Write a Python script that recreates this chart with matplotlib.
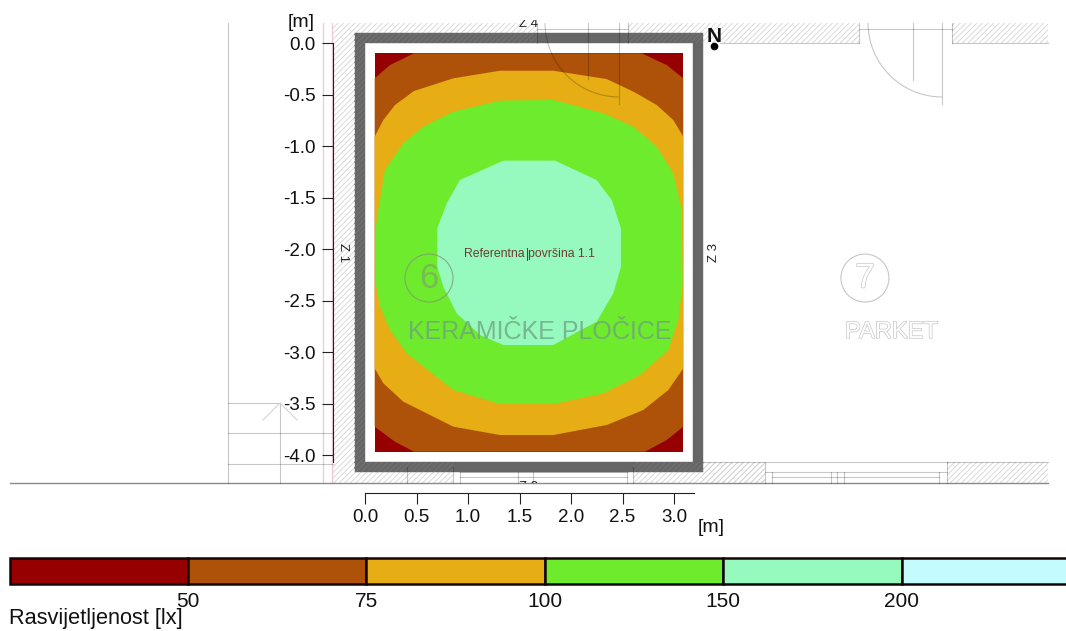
import matplotlib
matplotlib.use("Agg")
import matplotlib.pyplot as plt
import matplotlib.patheffects as pe
from matplotlib.patches import Rectangle, Circle, Arc
from matplotlib.ticker import FormatStrFormatter

plt.rcParams['font.family'] = ['Liberation Sans', 'DejaVu Sans']
plt.rcParams['axes.unicode_minus'] = False
plt.rcParams['hatch.linewidth'] = 0.6

# legend
band_colors = ['#960000', '#AF5209', '#E6AE14', '#6EEB2C', '#96F9BE', '#C3FBFF']
band_labels = ['50', '75', '100', '150', '200']
band_ticks = [1, 2, 3, 4, 5]

# isolines, metres
area_x = [0.094, 3.090, 3.090, 0.094]
area_y = [-0.100, -0.100, -3.968, -3.968]

lvl50_x = [0.094, 0.243, 0.476, 2.686, 2.929, 3.090, 3.090, 2.929, 2.718, 0.476, 0.291, 0.094]
lvl50_y = [-0.343, -0.214, -0.100, -0.100, -0.214, -0.343, -3.725, -3.854, -3.968, -3.968, -3.871, -3.725]

lvl75_x = [0.094, 0.178, 0.291, 0.476, 0.858, 1.311, 1.828, 2.346, 2.605, 2.832, 2.993, 3.090,
           3.090, 2.945, 2.702, 2.346, 1.828, 1.311, 0.858, 0.372, 0.178, 0.094]
lvl75_y = [-0.909, -0.748, -0.602, -0.466, -0.343, -0.269, -0.269, -0.350, -0.472, -0.602, -0.748, -0.909,
           -3.158, -3.369, -3.563, -3.709, -3.806, -3.806, -3.725, -3.482, -3.304, -3.158]

lvl100_x = [0.194, 0.372, 0.566, 0.858, 1.311, 1.828, 2.314, 2.605, 2.832, 2.993, 3.074, 3.084,
            3.042, 2.945, 2.670, 2.314, 1.828, 1.311, 0.858, 0.405, 0.243, 0.146, 0.104, 0.104, 0.129]
lvl100_y = [-1.233, -0.974, -0.812, -0.667, -0.560, -0.553, -0.683, -0.812, -1.006, -1.265, -1.621, -2.333,
            -2.689, -2.981, -3.223, -3.401, -3.505, -3.505, -3.369, -3.013, -2.786, -2.560, -2.333, -1.799, -1.621]

lvl150_x = [0.702, 0.793, 0.922, 1.343, 1.845, 2.249, 2.395, 2.485, 2.485, 2.411, 2.249, 1.828,
            1.343, 1.117, 0.890, 0.760, 0.702]
lvl150_y = [-1.799, -1.557, -1.330, -1.142, -1.142, -1.330, -1.524, -1.799, -2.172, -2.430, -2.706, -2.932,
            -2.932, -2.835, -2.625, -2.366, -2.172]

x_ticks = [0.0, 0.5, 1.0, 1.5, 2.0, 2.5, 3.0]
y_ticks = [0.0, -0.5, -1.0, -1.5, -2.0, -2.5, -3.0, -3.5, -4.0]

# floor plan underlay, metres
hatch_bands = [(-0.311, -4.272, 0.204, 4.466), (-0.107, 0.0, 1.777, 0.194), (2.553, 0.0, 2.243, 0.194),
               (5.699, 0.0, 0.932, 0.194), (-0.107, -4.272, 0.961, 0.204), (2.602, -4.272, 1.281, 0.204),
               (5.650, -4.272, 0.981, 0.204), (3.282, -4.272, 0.601, 0.204)]
wall_hatch = [(-0.107, 0.0, 1.777, 0.097), (2.553, 0.0, 0.729, 0.097), (-0.107, -4.165, 0.107, 4.165),
              (-0.107, -4.165, 0.961, 0.097), (2.602, -4.165, 0.680, 0.097)]
plan_h = [(-1.330, -0.825, -3.495), (-1.330, -0.311, -3.786), (-1.330, -0.311, -4.087),
          (1.670, 2.553, 0.136), (4.796, 5.699, 0.136), (3.447, 4.796, 0.0), (5.699, 6.631, 0.0),
          (3.282, 6.631, -4.068), (3.883, 5.650, -4.165), (3.951, 5.573, -4.214),
          (0.92, 2.544, -4.165), (0.92, 2.544, -4.214)]
plan_v = [(-1.330, 0.194, -4.272), (-0.825, -3.495, -4.272), (1.670, 0.194, 0.0), (2.165, 0.194, -0.350),
          (2.466, 0.194, -0.592), (2.553, 0.194, 0.0), (4.796, 0.194, 0.0), (5.320, 0.194, -0.359),
          (5.602, 0.194, -0.592), (5.699, 0.194, 0.0), (3.883, -4.068, -4.272), (3.951, -4.165, -4.272),
          (4.524, -4.165, -4.272), (4.583, -4.165, -4.272), (4.650, -4.165, -4.272), (5.573, -4.165, -4.272),
          (5.650, -4.068, -4.272), (0.41, -4.120, -4.272), (0.854, -4.120, -4.272), (0.92, -4.165, -4.272),
          (1.485, -4.165, -4.272), (1.631, -4.165, -4.272), (2.544, -4.165, -4.272), (2.602, -4.120, -4.272)]
pink_x = [-0.408, -0.320]
door_centres = [(2.466, 0.194), (5.602, 0.194)]
door_radius = 0.718
stair_x = [-0.990, -0.825, -0.660]
stair_y = [-3.660, -3.495, -3.660]

fig = plt.figure(figsize=(10.66, 6.31), dpi=100)
ax = fig.add_axes([0, 0, 1, 1])
ax.set_xlim(-3.5437, 6.8058)
ax.set_ylim(-5.7087, 0.4175)
ax.patch.set_alpha(0)

line_c = '#c6c6c6'
for x0, y0, w, h in hatch_bands:
    ax.add_patch(Rectangle((x0, y0), w, h, fill=False, hatch='//////', edgecolor='#d4d4d4', lw=0, zorder=1))
for x in pink_x:
    ax.plot([x, x], [0.194, -4.272], color='#eec9d2', lw=0.9, zorder=1)

# thick wall of the room
ax.add_patch(Rectangle((-0.053, -4.117), 3.287, 4.166, facecolor='white', edgecolor='#666666', lw=7.5, zorder=2))
for x0, y0, w, h in wall_hatch:
    ax.add_patch(Rectangle((x0, y0), w, h, fill=False, hatch='//////', edgecolor='#757575', lw=0, zorder=2.5))

# isolux areas
ax.fill(area_x, area_y, color=band_colors[0], lw=0, zorder=3)
ax.fill(lvl50_x, lvl50_y, color=band_colors[1], lw=0, zorder=4)
ax.fill(lvl75_x, lvl75_y, color=band_colors[2], lw=0, zorder=5)
ax.fill(lvl100_x, lvl100_y, color=band_colors[3], lw=0, zorder=6)
ax.fill(lvl150_x, lvl150_y, color=band_colors[4], lw=0, zorder=7)

# plan lines go over the colours
for x0, x1, y in plan_h:
    ax.plot([x0, x1], [y, y], color='black', alpha=0.22, lw=0.8, zorder=8)
ax.plot([-3.447, 6.631], [-4.272, -4.272], color='#8a8a8a', lw=1.0, zorder=8)
for x, y0, y1 in plan_v:
    ax.plot([x, x], [y0, y1], color='black', alpha=0.22, lw=0.8, zorder=8)
for c in door_centres:
    ax.add_patch(Arc(c, 2 * door_radius, 2 * door_radius, theta1=180, theta2=270, color='black', alpha=0.22, lw=0.8, zorder=8))
ax.plot(stair_x, stair_y, color='#d4d4d4', lw=0.8, zorder=8)

# room marks
outline = [pe.withStroke(linewidth=1.0, foreground=line_c)]
ax.add_patch(Circle((0.621, -2.282), 0.233, fill=False, edgecolor='#7f9a70', alpha=0.8, lw=0.8, zorder=8))
ax.add_patch(Circle((4.854, -2.282), 0.233, fill=False, edgecolor=line_c, lw=0.8, zorder=8))
ax.text(0.621, -2.282, '6', fontsize=25, ha='center', va='center', color='#7f9a70', alpha=0.6, zorder=8)
ax.text(4.854, -2.282, '7', fontsize=25, ha='center', va='center', color='white', path_effects=outline, zorder=8)
ax.text(1.699, -2.805, 'KERAMIČKE PLOČICE', fontsize=18, ha='center', va='center', color='#6fa080', alpha=0.75, zorder=8)
ax.text(5.11, -2.805, 'PARKET', fontsize=17, ha='center', va='center', color='white', path_effects=outline, zorder=8)

ax.text(1.60, -2.048, 'Referentna površina 1.1', fontsize=8.8, ha='center', va='center', color='#6b3f2e', zorder=9)
ax.plot([1.575, 1.575], [-1.99, -2.11], color='#444444', lw=0.7, zorder=9)

# wall labels
clip_top = Rectangle((1.0, -0.2), 1.2, 0.42, transform=ax.transData)
clip_bot = Rectangle((1.0, -4.272), 1.2, 0.2, transform=ax.transData)
t = ax.text(1.59, 0.18, 'Z 4', fontsize=9.5, ha='center', va='center', color='#222222', zorder=9)
t.set_clip_path(clip_top)
t.set_clip_on(True)
t = ax.text(1.59, -4.31, 'Z 2', fontsize=9.5, ha='center', va='center', color='#222222', zorder=9)
t.set_clip_path(clip_bot)
t.set_clip_on(True)
ax.text(-0.218, -2.03, 'Z 1', fontsize=9.5, rotation=270, ha='center', va='center', color='#222222', zorder=9)
ax.text(3.384, -2.03, 'Z 3', fontsize=9.5, rotation=90, ha='center', va='center', color='#222222', zorder=9)
ax.text(3.385, 0.06, 'N', fontsize=15, fontweight='bold', ha='center', va='center', color='#111111', zorder=9)
ax.plot([3.385], [-0.03], 'o', color='black', ms=4.5, zorder=9)

# axes in metres
for side in ['top', 'right']:
    ax.spines[side].set_visible(False)
ax.spines['left'].set_position(('data', -0.311))
ax.spines['left'].set_bounds(-4.07, 0.0)
ax.spines['bottom'].set_position(('data', -4.369))
ax.spines['bottom'].set_bounds(0.0, 3.194)
for side in ['left', 'bottom']:
    ax.spines[side].set_linewidth(0.8)
    ax.spines[side].set_color('#222222')
ax.set_xticks(x_ticks)
ax.set_yticks(y_ticks)
ax.xaxis.set_major_formatter(FormatStrFormatter('%.1f'))
ax.yaxis.set_major_formatter(FormatStrFormatter('%.1f'))
ax.tick_params(axis='both', length=8.2, width=0.8, labelsize=13.5, color='#222222', labelcolor='#111111')
ax.tick_params(axis='y', pad=4.5)
ax.tick_params(axis='x', pad=3)
ax.text(-0.62, 0.20, '[m]', fontsize=14, ha='center', va='center', color='#111111')
ax.text(3.36, -4.70, '[m]', fontsize=14, ha='center', va='center', color='#111111')

# colour scale
lax = fig.add_axes([9.5 / 1066, 1 - 583.5 / 631, (1066 - 9.5) / 1066, 25.5 / 631])
lax.set_xlim(0, (1066 - 9.5) / 178.4)
lax.set_ylim(0, 1)
lax.bar(range(len(band_colors)), [1] * len(band_colors), width=1, align='edge', color=band_colors,
        edgecolor='#150505', linewidth=1.8, clip_on=False)
lax.set_yticks([])
lax.set_xticks(band_ticks)
lax.set_xticklabels(band_labels)
lax.tick_params(axis='x', length=0, labelsize=15, pad=6, labelcolor='#111111')
for s in lax.spines.values():
    s.set_visible(False)
ax.text(-3.457, -5.585, 'Rasvijetljenost [lx]', fontsize=15.7, ha='left', va='center', color='#111111')

fig.savefig('out.png', dpi=100)
